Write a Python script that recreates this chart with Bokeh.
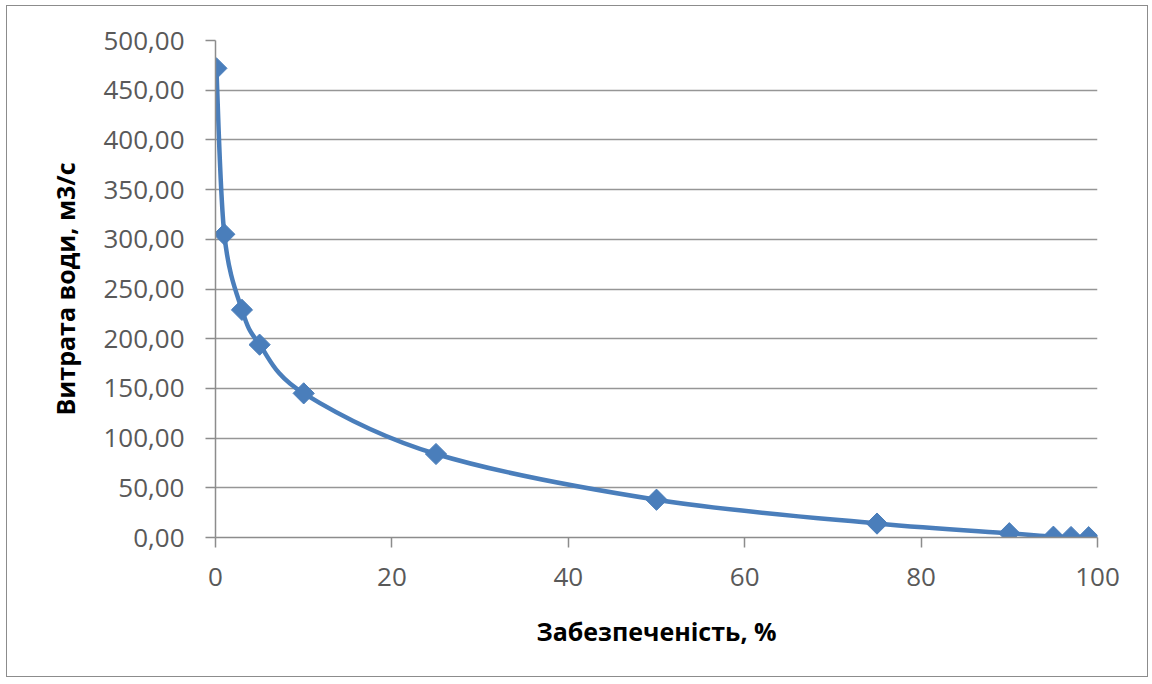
from bokeh.plotting import figure
from bokeh.models import Range1d, FixedTicker, ColumnDataSource
from bokeh.embed import file_html
from bokeh.resources import INLINE
import math

# Data
supply_pct = [0.1, 1, 3, 5, 10, 25, 50, 75, 90, 95, 97, 99]
discharge = [472, 305, 229, 194, 145, 84, 38, 14, 4.3, 0.8, 0.5, 0.3]
x_ticks = [0, 20, 40, 60, 80, 100]
y_ticks = [0, 50, 100, 150, 200, 250, 300, 350, 400, 450, 500]
y_tick_labels = ["0,00", "50,00", "100,00", "150,00", "200,00", "250,00",
                 "300,00", "350,00", "400,00", "450,00", "500,00"]
x_title = "Забезпеченість, %"
y_title = "Витрата води, м3/с"

FONT = "Open Sans"
LINE_COLOR = "#4a7ebb"

p = figure(width=1142, height=672, output_backend="svg", toolbar_location=None,
           x_range=Range1d(0, 100), y_range=Range1d(0, 500),
           min_border_left=208, min_border_right=52, min_border_top=34, min_border_bottom=141)
p.styles = {"border": "1px solid #8c8c8c", "margin-left": "6px", "margin-top": "5px"}
p.outline_line_color = None
p.background_fill_color = "white"
p.border_fill_color = "white"

# Grid
p.xgrid.visible = False
p.ygrid.grid_line_color = "#969696"
p.ygrid.grid_line_width = 1.5
p.ygrid.ticker = FixedTicker(ticks=y_ticks)

# Axes
for ax in (p.xaxis[0], p.yaxis[0]):
    ax.axis_line_color = "#8c8c8c"
    ax.axis_line_width = 1.5
    ax.major_tick_line_color = "#8c8c8c"
    ax.major_tick_line_width = 1.5
    ax.major_tick_out = 10
    ax.major_tick_in = 0
    ax.minor_tick_line_color = None
    ax.major_label_text_font = FONT
    ax.major_label_text_font_size = "26px"
    ax.major_label_text_color = "#595959"
    ax.axis_label_text_font = FONT
    ax.axis_label_text_font_size = "25px"
    ax.axis_label_text_font_style = "bold"
    ax.axis_label_text_color = "#000000"

p.xaxis.ticker = FixedTicker(ticks=x_ticks)
p.yaxis.ticker = FixedTicker(ticks=y_ticks)
p.yaxis.major_label_overrides = {t: l for t, l in zip(y_ticks, y_tick_labels)}
p.xaxis.major_label_standoff = 20
p.yaxis.major_label_standoff = 21
p.xaxis.axis_label = x_title
p.yaxis.axis_label = y_title
p.xaxis.axis_label_standoff = 25
p.yaxis.axis_label_standoff = 18

# Smoothed curve (Catmull-Rom style Bezier through the data points)
n = len(supply_pct)
x0, y0, x1, y1, cx0, cy0, cx1, cy1 = [], [], [], [], [], [], [], []
t = 1.0 / 6.0
for i in range(n - 1):
    im1 = max(i - 1, 0)
    ip2 = min(i + 2, n - 1)
    x0.append(supply_pct[i]); y0.append(discharge[i])
    x1.append(supply_pct[i + 1]); y1.append(discharge[i + 1])
    cx0.append(supply_pct[i] + (supply_pct[i + 1] - supply_pct[im1]) * t)
    cy0.append(discharge[i] + (discharge[i + 1] - discharge[im1]) * t)
    cx1.append(supply_pct[i + 1] - (supply_pct[ip2] - supply_pct[i]) * t)
    cy1.append(discharge[i + 1] - (discharge[ip2] - discharge[i]) * t)

bez = ColumnDataSource(dict(x0=x0, y0=y0, x1=x1, y1=y1, cx0=cx0, cy0=cy0, cx1=cx1, cy1=cy1))
p.bezier(x0="x0", y0="y0", x1="x1", y1="y1", cx0="cx0", cy0="cy0", cx1="cx1", cy1="cy1",
         source=bez, line_color=LINE_COLOR, line_width=4.5)

pts = ColumnDataSource(dict(x=supply_pct, y=discharge))
p.scatter(x="x", y="y", source=pts, marker="square", size=15, angle=math.pi / 4,
          fill_color=LINE_COLOR, line_color=LINE_COLOR, line_width=1)

open("out.html", "w").write(file_html(p, INLINE))
